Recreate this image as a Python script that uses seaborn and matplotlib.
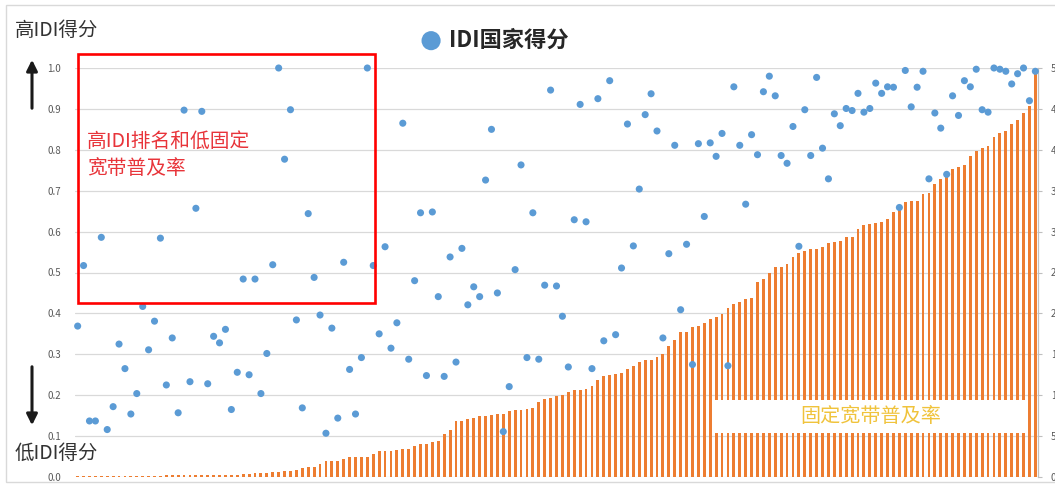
import numpy as np
import pandas as pd
import seaborn as sns
from matplotlib import pyplot as plt
from matplotlib.patches import Rectangle, FancyArrowPatch

sns.set_theme(style='white')
plt.rcParams['font.family'] = ['Noto Sans CJK SC', 'DejaVu Sans']

#%% data (countries ordered by fixed broadband penetration)
idi_score = [0.369, 0.517, 0.137, 0.137, 0.586, 0.116, 0.172, 0.325, 0.265, 0.154,
             0.204, 0.417, 0.311, 0.381, 0.584, 0.225, 0.340, 0.157, 0.897, 0.233,
             0.657, 0.894, 0.228, 0.344, 0.328, 0.361, 0.165, 0.256, 0.484, 0.250,
             0.484, 0.204, 0.302, 0.519, 1.000, 0.777, 0.898, 0.384, 0.169, 0.644,
             0.488, 0.396, 0.107, 0.364, 0.144, 0.525, 0.263, 0.154, 0.292, 1.000,
             0.517, 0.350, 0.563, 0.315, 0.377, 0.865, 0.288, 0.480, 0.646, 0.248,
             0.648, 0.441, 0.246, 0.538, 0.281, 0.559, 0.421, 0.465, 0.441, 0.726,
             0.850, 0.450, 0.111, 0.221, 0.507, 0.763, 0.292, 0.646, 0.288, 0.469,
             0.946, 0.467, 0.393, 0.269, 0.629, 0.911, 0.624, 0.265, 0.925, 0.333,
             0.969, 0.348, 0.511, 0.863, 0.565, 0.704, 0.886, 0.937, 0.846, 0.340,
             0.546, 0.811, 0.409, 0.569, 0.275, 0.815, 0.637, 0.817, 0.784, 0.840,
             0.272, 0.954, 0.811, 0.667, 0.837, 0.788, 0.942, 0.980, 0.932, 0.786,
             0.767, 0.857, 0.564, 0.898, 0.786, 0.977, 0.804, 0.729, 0.888, 0.859,
             0.901, 0.896, 0.938, 0.892, 0.901, 0.963, 0.938, 0.954, 0.953, 0.659,
             0.994, 0.905, 0.953, 0.992, 0.729, 0.890, 0.853, 0.740, 0.932, 0.884,
             0.969, 0.954, 0.997, 0.898, 0.892, 1.000, 0.997, 0.992, 0.961, 0.986,
             1.000, 0.920, 0.992]

fixed_bb = [0.15, 0.15, 0.15, 0.15, 0.15, 0.15, 0.15, 0.15, 0.15, 0.15,
            0.15, 0.15, 0.15, 0.15, 0.15, 0.20, 0.20, 0.20, 0.20, 0.20,
            0.20, 0.20, 0.20, 0.20, 0.20, 0.25, 0.28, 0.30, 0.40, 0.42,
            0.45, 0.48, 0.53, 0.65, 0.65, 0.77, 0.77, 0.86, 1.06, 1.26,
            1.26, 1.59, 2.00, 2.00, 2.00, 2.20, 2.40, 2.40, 2.40, 2.48,
            2.85, 3.18, 3.18, 3.18, 3.26, 3.38, 3.46, 3.79, 3.99, 4.07,
            4.28, 4.40, 5.25, 5.78, 6.84, 6.84, 7.12, 7.25, 7.45, 7.45,
            7.57, 7.65, 7.65, 8.06, 8.18, 8.18, 8.27, 8.39, 9.20, 9.53,
            9.61, 9.93, 10.06, 10.34, 10.67, 10.67, 10.79, 11.07, 11.81, 12.34,
            12.46, 12.54, 12.74, 13.19, 13.60, 14.00, 14.25, 14.33, 14.66, 15.07,
            16.00, 16.80, 17.67, 17.67, 18.28, 18.50, 18.80, 19.34, 19.60, 19.87,
            20.60, 21.13, 21.34, 21.74, 21.87, 23.80, 24.20, 24.90, 25.70, 25.70,
            26.10, 26.90, 27.40, 27.60, 27.90, 27.90, 28.10, 28.60, 28.70, 28.80,
            29.40, 29.40, 30.30, 30.80, 30.90, 31.10, 31.20, 31.60, 32.40, 32.90,
            33.60, 33.80, 33.80, 34.60, 34.70, 35.80, 36.40, 37.10, 37.60, 37.90,
            38.20, 39.30, 39.80, 40.20, 40.50, 41.60, 42.00, 42.30, 43.20, 43.60,
            44.50, 45.40, 49.40]

left_ticks = np.arange(0, 1.01, 0.1)
right_ticks = np.arange(0, 51, 5)

n = len(idi_score)
df = pd.DataFrame({'rank': np.arange(n), 'idi': idi_score, 'bb': fixed_bb})

#%% figure, pixel helpers
W, H = 1055, 484
fig = plt.figure(figsize=(W/100, H/100), dpi=100)
def fx(px): return px / W
def fy(py): return 1 - py / H

x0, x1, ytop, ybot = 74.7, 1038.3, 68, 477
ax_bar = fig.add_axes([fx(x0), fy(ybot), fx(x1) - fx(x0), fy(ytop) - fy(ybot)])
ax_dot = ax_bar.twinx()

# bars: fixed broadband penetration (right axis)
sns.barplot(data=df, x='rank', y='bb', color='#ED7D31', saturation=1, width=0.48,
            errorbar=None, ax=ax_bar, zorder=2, linewidth=0)
for p in ax_bar.patches:
    p.set_antialiased(False)
ax_bar.set_ylim(0, 50)
ax_bar.set_yticks(right_ticks)
ax_bar.set_yticklabels([str(v) for v in right_ticks])
ax_bar.yaxis.tick_right()
ax_bar.yaxis.grid(True, color='#D9D9D9', linewidth=0.9)
ax_bar.set_axisbelow(True)
ax_bar.tick_params(axis='y', which='both', right=True, left=False, labelright=True,
                   labelleft=False, length=3, width=0.8, color='#BFBFBF',
                   labelsize=7, labelcolor='#595959', pad=6)
ax_bar.set_xticks([])
ax_bar.set_xlabel('')
ax_bar.set_ylabel('')
for s in ['top', 'left', 'bottom']:
    ax_bar.spines[s].set_visible(False)
ax_bar.spines['right'].set_color('#BFBFBF')
ax_bar.spines['right'].set_linewidth(0.9)

# dots: IDI score (left axis)
sns.scatterplot(data=df, x='rank', y='idi', color='#5B9BD5', s=26, edgecolor='none',
                ax=ax_dot, clip_on=False, label='IDI国家得分', legend=False, zorder=3)
ax_dot.set_ylim(0, 1.0)
ax_dot.set_xlim(-0.5, n - 0.5)
ax_dot.set_yticks(left_ticks)
ax_dot.set_yticklabels([f'{v:.1f}' for v in left_ticks])
ax_dot.yaxis.tick_left()
ax_dot.tick_params(axis='y', left=True, right=False, labelleft=True, labelright=False,
                   length=0, labelsize=7, labelcolor='#595959', pad=10)
ax_dot.set_ylabel('')
ax_dot.set_xlabel('')
for s in ax_dot.spines.values():
    s.set_visible(False)

# legend at the top
h = ax_dot.collections[0]
leg = fig.legend([h], ['IDI国家得分'], loc='center', bbox_to_anchor=(fx(492), fy(40)),
                 frameon=False, markerscale=2.7, handletextpad=0.1, handlelength=1.4,
                 prop={'size': 16, 'weight': 'bold'})

#%% annotations
fig.add_artist(Rectangle((fx(6), fy(482)), fx(1060) - fx(6), fy(5) - fy(482),
                         transform=fig.transFigure, fill=False, edgecolor='#D9D9D9', lw=1))

fig.text(fx(15), fy(30), '高IDI得分', fontsize=14, color='#333333', va='center')
fig.text(fx(15), fy(453), '低IDI得分', fontsize=14, color='#333333', va='center')

fig.add_artist(FancyArrowPatch((fx(32), fy(111)), (fx(32), fy(57)), transform=fig.transFigure,
                               arrowstyle='-|>', mutation_scale=16, lw=2.2, color='k'))
fig.add_artist(FancyArrowPatch((fx(32), fy(364)), (fx(32), fy(428)), transform=fig.transFigure,
                               arrowstyle='-|>', mutation_scale=16, lw=2.2, color='k'))

fig.add_artist(Rectangle((fx(78), fy(303)), fx(375) - fx(78), fy(54) - fy(303),
                         transform=fig.transFigure, fill=False, edgecolor='#FF0000', lw=1.9))
fig.text(fx(87), fy(155), '高IDI排名和低固定\n宽带普及率', fontsize=14.2, color='#E8343A',
         va='center', linespacing=1.4)

fig.add_artist(Rectangle((fx(712.7), fy(433.3)), fx(1026) - fx(712.7), fy(400) - fy(433.3),
                         transform=fig.transFigure, facecolor='white', edgecolor='none'))
fig.text(fx(871), fy(417), '固定宽带普及率', fontsize=14.5, color='#F0C33C',
         ha='center', va='center')

fig.savefig('out.png', dpi=100)
